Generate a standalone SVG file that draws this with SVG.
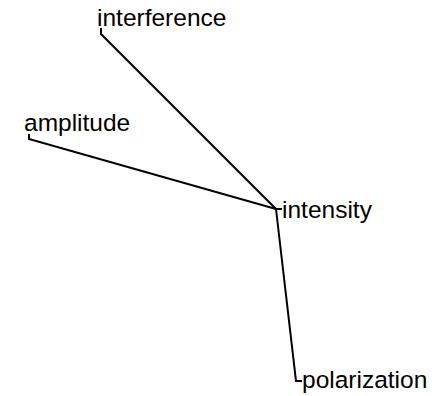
<svg xmlns="http://www.w3.org/2000/svg" width="444" height="396" viewBox="0 0 444 396">
<style>
.link{fill:none;stroke:#000;stroke-width:2}
.label{font-family:"Liberation Sans",Arial,Helvetica,sans-serif;font-size:24.5px;fill:#000}
</style>
<rect width="444" height="396" fill="#fff"/>
<g id="connectors">
<path class="link" d="M276,209 L101,34 L101,28"/>
<path class="link" d="M276,209 L29,139 L29,134"/>
<path class="link" d="M276,209 L282,209"/>
<path class="link" d="M276,209 L296,381 L302,381"/>
</g>
<g id="node-interference"><text class="label" x="97" y="26">interference</text></g>
<g id="node-amplitude"><text class="label" x="24" y="131">amplitude</text></g>
<g id="node-intensity"><text class="label" x="282" y="218">intensity</text></g>
<g id="node-polarization"><text class="label" x="302" y="388">polarization</text></g>
</svg>
